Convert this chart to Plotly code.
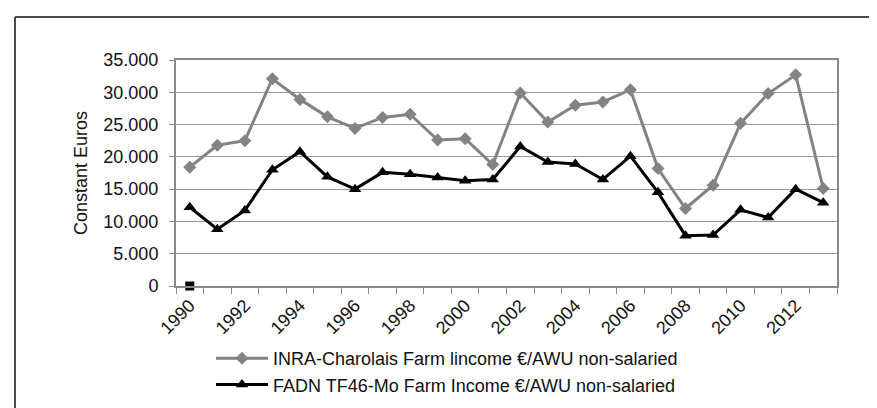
import plotly.graph_objects as go

years = list(range(1990, 2014))
inra_charolais = [18.4, 21.8, 22.5, 32.1, 28.9, 26.2, 24.4, 26.1, 26.6, 22.6, 22.8, 18.8,
                  29.9, 25.4, 28.0, 28.5, 30.4, 18.2, 12.0, 15.6, 25.2, 29.8, 32.7, 15.1]
inra_charolais = [v * 1000 for v in inra_charolais]
fadn_tf46 = [12.2, 8.8, 11.7, 18.0, 20.8, 16.9, 15.0, 17.6, 17.3, 16.8, 16.3, 16.5,
             21.6, 19.2, 18.9, 16.5, 20.1, 14.5, 7.8, 7.9, 11.8, 10.6, 15.0, 12.9]
fadn_tf46 = [v * 1000 for v in fadn_tf46]
stray_x = [1990]
stray_y = [0]
label_years = list(range(1990, 2013, 2))
y_ticks = [0, 5000, 10000, 15000, 20000, 25000, 30000, 35000]

FONT = "Liberation Sans, Arial, sans-serif"
FS = 18
TXT = "#111111"

fig = go.Figure()
fig.add_trace(go.Scatter(
    x=years, y=inra_charolais, mode="lines+markers",
    name="INRA-Charolais Farm lincome €/AWU non-salaried",
    line=dict(color="#838383", width=3),
    marker=dict(symbol="diamond", size=10, color="#838383"),
    legendgroup="a",
))
fig.add_trace(go.Scatter(
    x=years, y=fadn_tf46, mode="lines+markers",
    name="FADN TF46-Mo Farm Income €/AWU non-salaried",
    line=dict(color="#000000", width=3),
    marker=dict(symbol="triangle-up", size=11, color="#000000"),
    legendgroup="b",
))
fig.add_trace(go.Scatter(
    x=stray_x, y=stray_y, mode="markers", showlegend=False,
    marker=dict(symbol="square", size=9, color="#000000"),
    cliponaxis=False,
))

L, R, T, B = 168, 48, 52, 130
W, H = 877, 408
pw = W - L - R
ph = H - T - B

def px_x(p):
    return (p - L) / pw

def px_y(p):
    return (H - B - p) / ph

frame = dict(type="line", xref="paper", yref="paper", line=dict(color="#4a4a4a", width=2))
fig.add_shape(**frame, x0=px_x(7), x1=px_x(871), y0=px_y(9), y1=px_y(9))
fig.add_shape(**frame, x0=px_x(7), x1=px_x(7), y0=px_y(9), y1=px_y(420))
fig.add_shape(**frame, x0=px_x(871), x1=px_x(871), y0=px_y(9), y1=px_y(420))

fig.update_layout(
    width=W, height=H,
    margin=dict(l=L, r=R, t=T, b=B),
    paper_bgcolor="white", plot_bgcolor="white",
    separators=",.",
    font=dict(family=FONT, size=FS, color=TXT),
    showlegend=True,
    legend=dict(
        x=px_x(203), y=px_y(332), xanchor="left", yanchor="top",
        font=dict(family=FONT, size=FS, color=TXT),
        traceorder="grouped", tracegroupgap=0, itemwidth=52,
        bgcolor="rgba(0,0,0,0)",
    ),
    xaxis=dict(
        range=[1989.5, 2013.5],
        tickmode="array", tickvals=label_years, ticktext=[str(y) for y in label_years],
        tickangle=-45, ticks="", showgrid=False, zeroline=False,
        showline=True, linecolor="#8a8a8a", linewidth=2, mirror=True,
        tickfont=dict(family=FONT, size=FS, color=TXT),
        minor=dict(tickmode="linear", tick0=1989.5, dtick=1, ticks="outside",
                   ticklen=6, tickwidth=1, tickcolor="#8a8a8a", showgrid=False),
    ),
    yaxis=dict(
        range=[0, 35000], tickmode="array", tickvals=y_ticks, tickformat=",d",
        showgrid=True, gridcolor="#9a9a9a", gridwidth=1, zeroline=False,
        showline=True, linecolor="#8a8a8a", linewidth=2, mirror=True,
        ticks="outside", ticklen=5, tickcolor="#8a8a8a", ticklabelstandoff=7,
        tickfont=dict(family=FONT, size=FS, color=TXT),
        title=dict(text="Constant Euros", standoff=11,
                   font=dict(family=FONT, size=FS, color=TXT)),
    ),
)

fig.write_html("out.html")
